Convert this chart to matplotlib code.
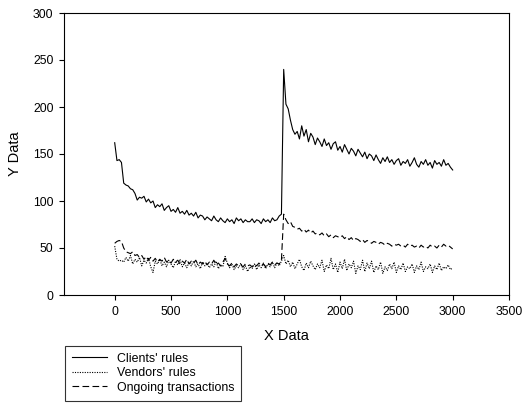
import matplotlib
matplotlib.use('Agg')
import matplotlib.pyplot as plt

# x positions, one reading every 20 units
x_data = list(range(0, 3001, 20))

# Clients' rules (solid)
clients = [
    162, 143, 144, 141, 119, 117, 116, 113, 112, 108,
    101, 104, 103, 105, 99, 102, 98, 100, 93, 96,
    94, 97, 90, 93, 95, 89, 91, 88, 93, 87,
    89, 86, 90, 85, 87, 84, 88, 82, 85, 84,
    80, 83, 81, 79, 84, 80, 78, 82, 79, 77,
    81, 78, 80, 76, 82, 79, 81, 77, 80, 78,
    78, 81, 77, 80, 79, 76, 81, 78, 80, 77,
    82, 79, 80, 84, 86, 240, 203, 198, 186, 176,
    171, 174, 166, 180, 169, 176, 163, 172, 168, 160,
    167, 163, 158, 166, 159, 162, 155, 161, 163, 154,
    158, 152, 160, 155, 150, 156, 153, 148, 155, 151,
    147, 152, 145, 150, 148, 143, 149, 144, 140, 146,
    142, 147, 141, 144, 139, 143, 145, 138, 142, 140,
    144, 137, 141, 146, 139, 136, 142, 139, 144, 138,
    141, 135, 143, 139, 141, 137, 144, 138, 140, 136,
    133,
]

# Vendors' rules (dotted)
vendors = [
    52, 38, 36, 37, 35, 40, 36, 42, 33, 38,
    35, 40, 31, 37, 34, 39, 30, 24, 36, 33,
    38, 31, 35, 30, 37, 33, 29, 36, 32, 38,
    30, 34, 29, 35, 31, 36, 30, 33, 28, 35,
    31, 34, 29, 33, 30, 36, 28, 32, 30, 41,
    34, 29, 33, 27, 31, 29, 34, 27, 31, 25,
    30, 28, 33, 27, 32, 29, 34, 28, 33, 30,
    35, 29, 34, 31, 36, 42, 33, 37, 30, 35,
    28, 33, 38, 30, 26, 34, 29, 36, 31, 27,
    33, 29, 37, 25, 32, 28, 39, 27, 33, 24,
    35, 28, 38, 26, 33, 29, 36, 23, 31, 27,
    37, 25, 34, 28, 36, 24, 31, 27, 35, 23,
    30, 26, 33, 28, 35, 24, 31, 27, 34, 25,
    30, 28, 33, 24, 31, 27, 35, 25, 30, 28,
    33, 24, 31, 27, 34, 26, 30, 28, 32, 27,
    29,
]

# Ongoing transactions (dashed)
ongoing = [
    55, 57, 58, 57, 50, 46, 45, 44, 46, 42,
    43, 40, 42, 38, 41, 37, 40, 36, 39, 35,
    38, 36, 40, 35, 37, 34, 38, 35, 37, 33,
    36, 34, 38, 33, 36, 34, 37, 32, 35, 33,
    36, 32, 35, 33, 37, 32, 34, 31, 35, 39,
    33, 31, 34, 30, 33, 31, 32, 30, 33, 31,
    32, 30, 33, 31, 34, 31, 33, 30, 34, 32,
    35, 32, 34, 33, 37, 86, 80, 76, 78, 73,
    72, 70, 71, 68, 70, 67, 69, 66, 68, 65,
    66, 64, 66, 63, 65, 62, 64, 61, 63, 62,
    61, 63, 60, 62, 59, 61, 58, 60, 59, 57,
    59, 56, 58, 57, 55, 57, 56, 54, 56, 55,
    53, 55, 54, 52, 54, 53, 54, 52, 53, 51,
    54, 52, 53, 51, 52, 50, 53, 51, 52, 50,
    53, 51, 52, 50, 53, 51, 54, 52, 53, 51,
    49,
]

labels = ["Clients' rules", "Vendors' rules", "Ongoing transactions"]

plt.rcParams['font.family'] = ['Liberation Sans', 'DejaVu Sans']

fig = plt.figure(figsize=(5.23, 4.04), dpi=100)
ax = fig.add_axes([64 / 523, 1 - 295 / 404, (509 - 64) / 523, (295 - 13) / 404])

ax.plot(x_data, clients, color='black', lw=0.8, ls='-', label=labels[0])
ax.plot(x_data, vendors, color='black', lw=0.8, ls=(0, (1, 1.2)), label=labels[1])
ax.plot(x_data, ongoing, color='black', lw=0.8, ls=(0, (6, 3)), label=labels[2])

ax.set_xlim(-450, 3500)
ax.set_ylim(0, 300)
ax.set_xticks(range(0, 3501, 500))
ax.set_yticks(range(0, 301, 50))
ax.tick_params(direction='out', length=3.6, width=0.8, labelsize=8.8, pad=4,
               top=False, right=False)
for s in ax.spines.values():
    s.set_linewidth(0.8)

ax.set_xlabel('X Data', fontsize=10.5, labelpad=8)
ax.set_ylabel('Y Data', fontsize=10.5, labelpad=8)

leg = fig.legend(loc='upper left', bbox_to_anchor=(65 / 523, 1 - 346 / 404),
                 fontsize=8.9, frameon=True, fancybox=False, handlelength=2.85,
                 handletextpad=0.8, labelspacing=0.2, borderpad=0.55,
                 borderaxespad=0)
leg.get_frame().set_edgecolor('black')
leg.get_frame().set_linewidth(0.8)

fig.savefig('out.png', dpi=100)
